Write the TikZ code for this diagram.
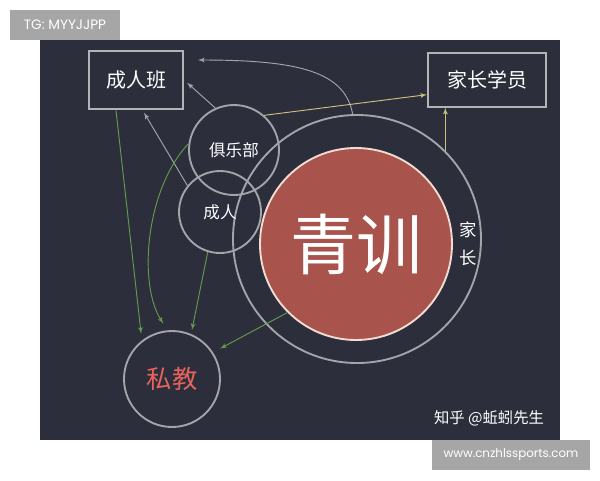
\documentclass[tikz,border=0pt]{standalone}
\usepackage{fontspec}
\newfontfamily\cjk{Noto Sans CJK SC}
\newfontfamily\markfont{Poppins}
\usepackage{tikz}
\usetikzlibrary{arrows}
\usetikzlibrary{positioning}
\definecolor{board}{HTML}{2C2F3B}
\definecolor{tagbg}{HTML}{A6A6A6}
\definecolor{boxgray}{HTML}{B4B4B6}
\definecolor{ringgray}{HTML}{A4A5AB}
\definecolor{youthred}{HTML}{A8544D}
\definecolor{rimpink}{HTML}{F2DCD4}
\definecolor{chalkgreen}{HTML}{629B4C}
\definecolor{chalkyellow}{HTML}{C9C27C}
\definecolor{coachred}{HTML}{E6625C}
\tikzstyle{every node}+=[inner sep=0pt]
\tikzstyle{block} = [rectangle, draw=boxgray, line width=1.6pt, text=white, font=\cjk\fontsize{15}{15}\selectfont]
\tikzstyle{ring} = [circle, draw=ringgray, line width=1.4pt, text=white, font=\cjk\fontsize{12.4}{12.4}\selectfont]
\tikzstyle{line} = [draw, -latex', line width=0.7pt]
\tikzstyle{grayline} = [line, ringgray]
\tikzstyle{greenline} = [line, chalkgreen]
\tikzstyle{yellowline} = [line, chalkyellow]
\tikzstyle{tag} = [rectangle, fill=tagbg, text=white]

\begin{document}
\begin{tikzpicture}[x=0.75pt, y=-0.75pt, every text node part/.style={align=center}]
            \useasboundingbox (0,0) rectangle (600,480);
            \fill [board] (40,40) rectangle (560,440);
            % Place nodes
            \node [block, minimum width=70.5pt, minimum height=44pt] (adult class) at (136,80) {成人班};
            \node [block, minimum width=88.5pt, minimum height=40pt] (parent class) at (487,80) {家长学员};
            \node [ring, minimum size=186pt] (family) at (357,239) {};
            \node [ring, minimum size=67.5pt] (club) at (234,150) {俱乐部};
            \node [ring, minimum size=61.5pt] (adult) at (220,212) {成人};
            \node [circle, fill=youthred, draw=rimpink, line width=1.4pt, minimum size=144pt, text=white, font=\cjk\fontsize{49.5}{49.5}\selectfont] (youth) at (356,244) {青训};
            \node [text=white, font=\cjk\fontsize{13}{21}\selectfont, right=5pt of youth] (kin) {家\\长};
            \node [ring, minimum size=72pt, text=coachred, font=\cjk\fontsize{19}{19}\selectfont] (coach) at (172,379) {私教};
            \node [text=white, font=\cjk\fontsize{11.5}{11.5}\selectfont] (sign) at (489,418) {知乎 @蚯蚓先生};
            \node [tag, minimum width=82.5pt, minimum height=22.5pt, font=\markfont\fontsize{10.2}{10.2}\selectfont] (tg) at (65,25) {TG: MYYJJPP};
            \node [tag, minimum width=118.5pt, minimum height=22.5pt, font=\markfont\fontsize{8.9}{8.9}\selectfont] (site) at (511,455) {www.cnzhlssports.com};
            \coordinate (top end) at (198,60);
            % Draw edges
            \path [grayline] (family.92) .. controls (345,72) and (300,60) .. (top end);
            \path [grayline, shorten >=3pt] (club.114) -- (adult class.east);
            \path [grayline, shorten >=2pt] (adult.141) -- ([xshift=5pt]adult class.south);
            \path [yellowline] (club.49) -- ([yshift=-11pt]parent class.west);
            \path [yellowline] (family.45) -- (family.45 |- parent class.south);
            \path [greenline, shorten >=5pt] ([xshift=-15pt]adult class.south) -- (coach.128);
            \path [greenline, shorten >=6pt] (club.172) .. controls (145,190) and (138,285) .. (coach.95);
            \path [greenline, shorten >=3pt] (adult.253) -- (coach.67);
            \path [greenline, shorten >=6pt] (youth.225) -- (coach.33);
            \end{tikzpicture}
\end{document}
